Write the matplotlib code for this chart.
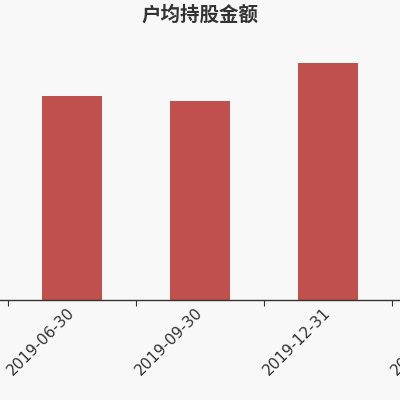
import matplotlib
matplotlib.use("Agg")
import matplotlib.pyplot as plt
import matplotlib.transforms as mtransforms

plt.rcParams['font.family'] = ['Noto Sans CJK SC', 'DejaVu Sans']

title = "户均持股金额"
categories = ["2019-06-30", "2019-09-30", "2019-12-31", "2020-03-31"]
values = [20.4, 19.9, 23.7, 22.0]

bg = "#f8f8f8"
fig = plt.figure(figsize=(4, 4), dpi=100, facecolor=bg)
ax = fig.add_axes([0, 0.25, 1, 0.65])
ax.set_facecolor(bg)

x = list(range(len(categories)))
ax.bar(x, values, width=60/128, color="#c0504d")
ax.set_xlim(-0.5625, 2.5625)
ax.set_ylim(0, 26)

for s in ["top", "right", "left"]:
    ax.spines[s].set_visible(False)
ax.spines["bottom"].set_color("#333333")
ax.spines["bottom"].set_linewidth(1)
ax.set_yticks([])
ax.set_xticks([i - 0.5 for i in x])
ax.set_xticklabels([])
ax.tick_params(axis="x", length=4, color="#333333", direction="out")

trans = mtransforms.blended_transform_factory(ax.transData, ax.transAxes)
offset = mtransforms.ScaledTranslation(-5/100, -5/100, fig.dpi_scale_trans)
for i, lab in zip(x, categories):
    ax.text(i, 0, lab, transform=trans + offset, rotation=45, ha="right", va="top",
            rotation_mode="anchor", fontsize=11, color="#333333",
            family="DejaVu Sans", clip_on=False)

fig.text(0.5, 0.963, title, ha="center", va="center", fontsize=14,
         color="#333333", fontweight="bold")

fig.savefig("out.png", dpi=100, facecolor=bg)
